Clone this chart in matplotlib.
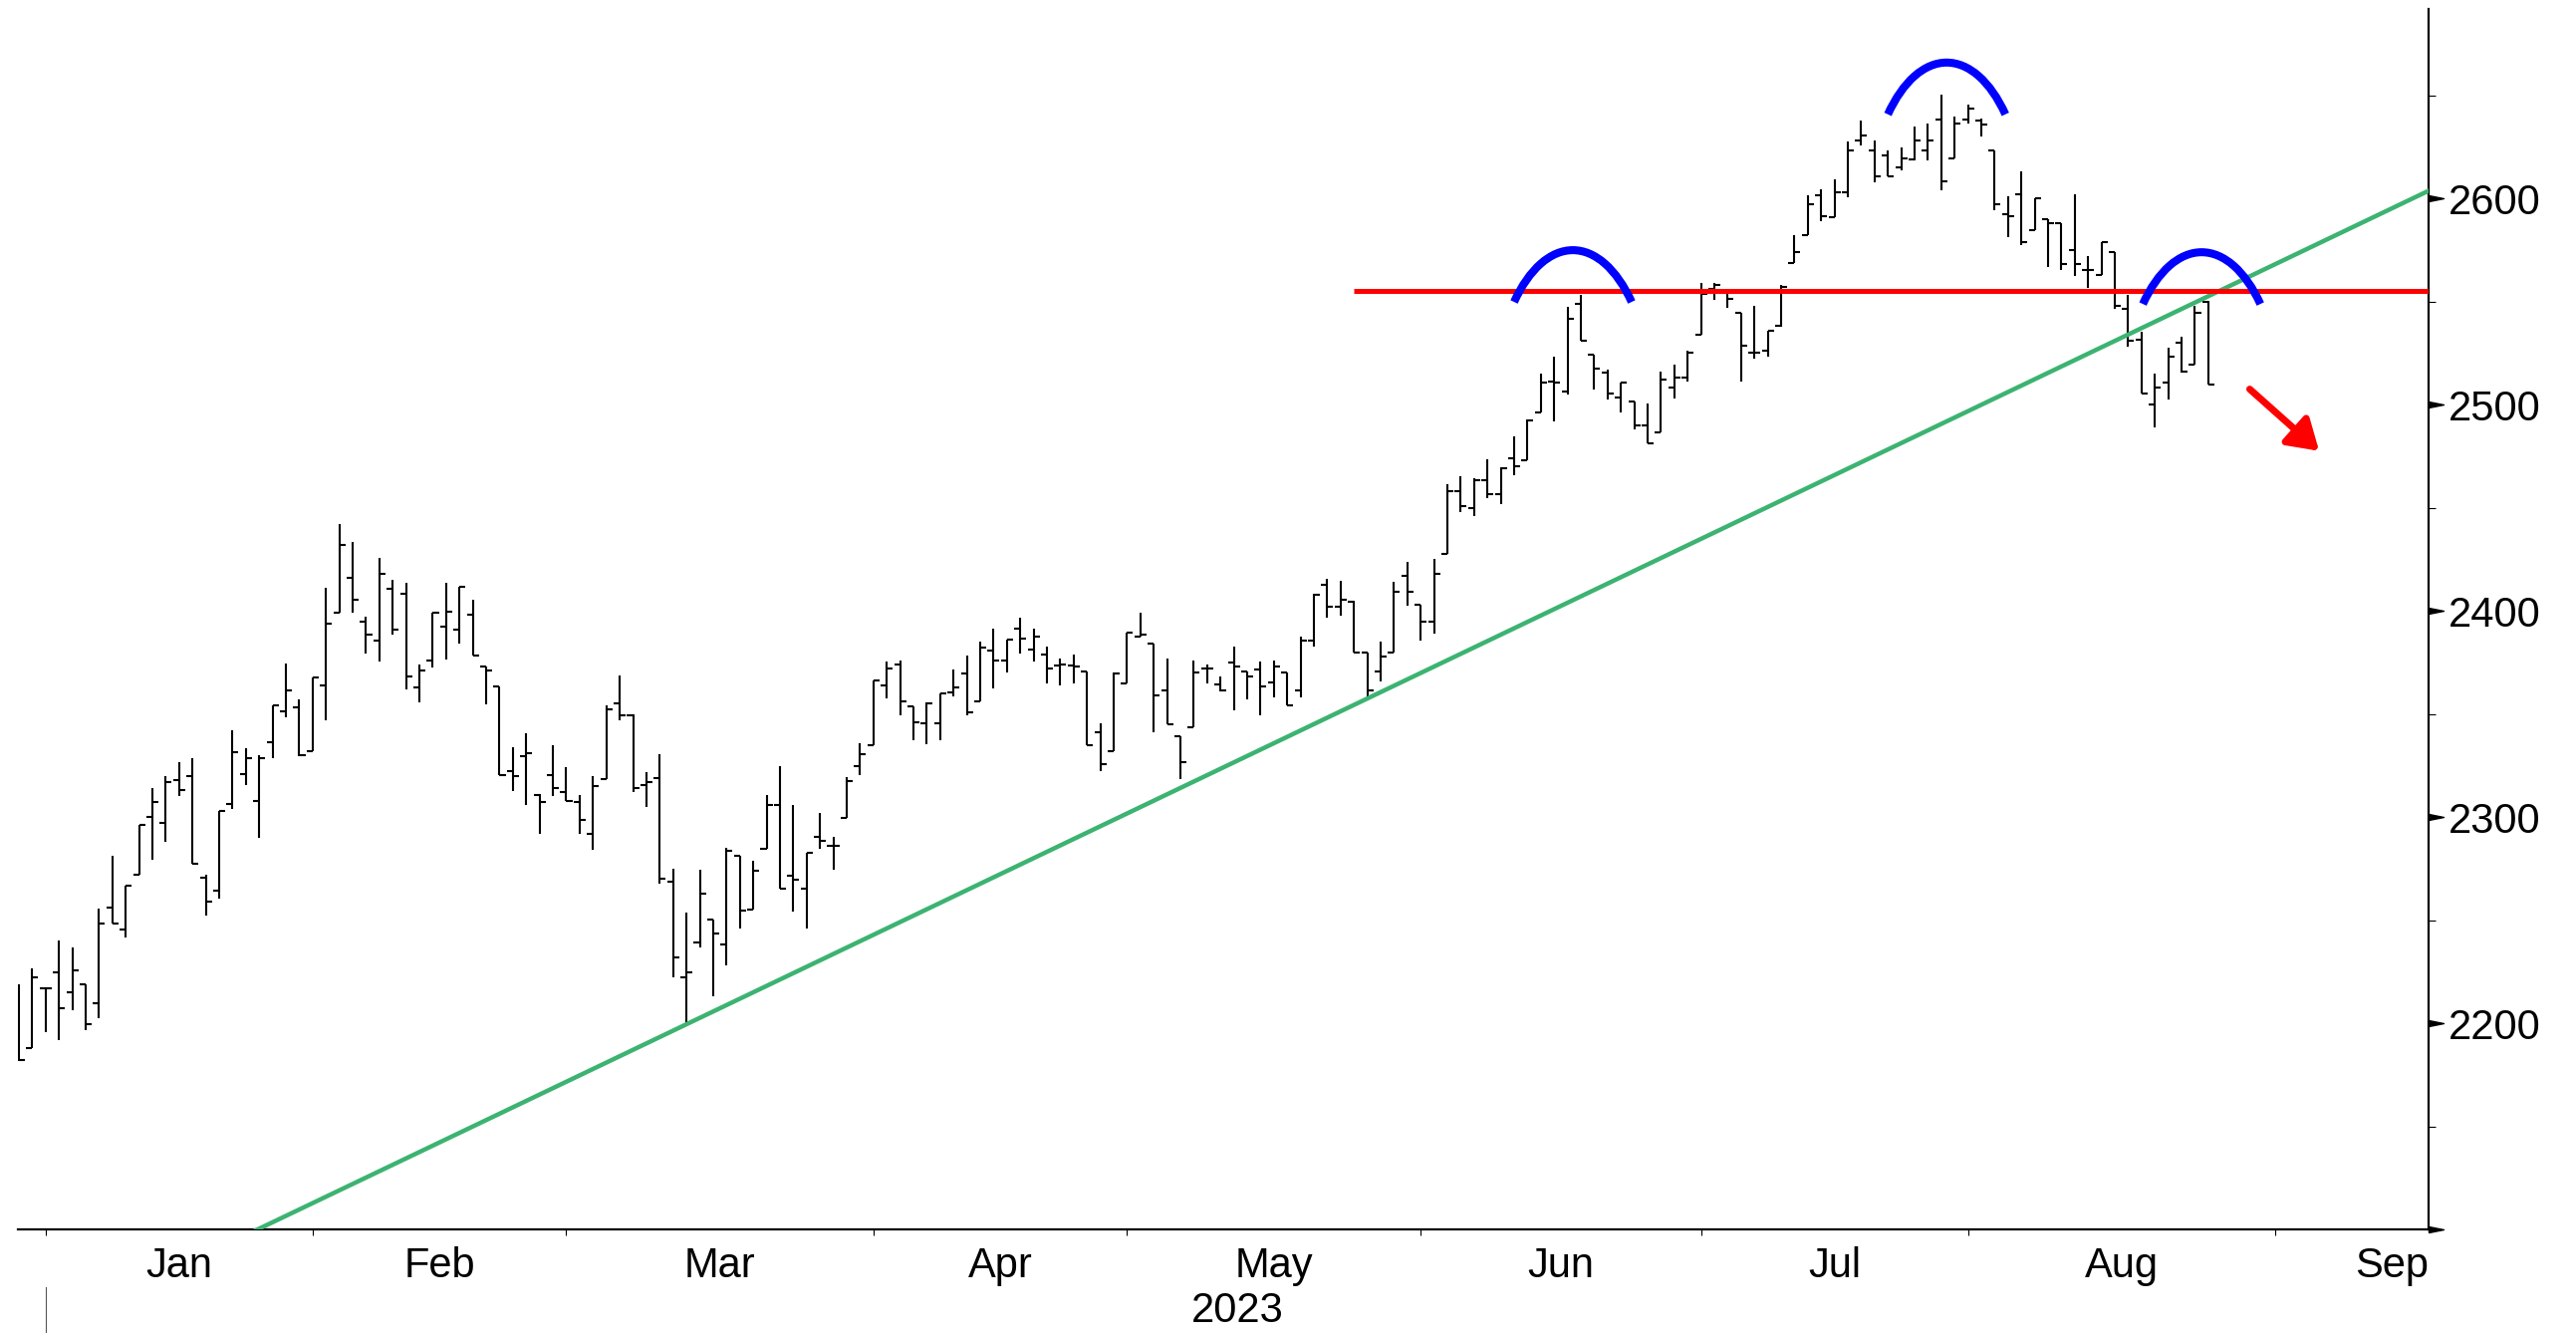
import matplotlib
matplotlib.use("Agg")
import matplotlib.pyplot as plt
import numpy as np
from matplotlib.patches import Arc, FancyArrowPatch
from matplotlib.transforms import blended_transform_factory

# daily OHLC, 29 Dec 2022 .. 25 Aug 2023 (one entry per trading day)
opens = [2200, 2188, 2217, 2224.5, 2215, 2219, 2209.5, 2256, 2245.5, 2272,
         2300, 2297, 2318, 2320, 2270.5, 2264.5, 2306.5, 2321, 2308, 2336.5,
         2351.5, 2353, 2332, 2364, 2399, 2416, 2395, 2385.5, 2410.5, 2408.5,
         2363, 2376, 2392.5, 2391, 2398, 2373, 2363.5, 2322.5, 2329.5, 2310.5,
         2320.5, 2312, 2307.5, 2292, 2318.5, 2355, 2349.5, 2315.5, 2319, 2268.5,
         2222.5, 2239, 2250.5, 2238, 2281, 2255, 2284.5, 2306, 2271.5, 2265.5,
         2290.5, 2286, 2299.5, 2324.5, 2335, 2364, 2374, 2353.5, 2345.5, 2345.5,
         2360.5, 2369.5, 2356, 2381, 2376, 2391.5, 2381.5, 2379, 2373.5, 2373.5,
         2370.5, 2341, 2332, 2365, 2387.5, 2384, 2361.5, 2339, 2343.5, 2372,
         2364.5, 2375, 2370.5, 2371.5, 2365.5, 2370, 2361.5, 2385.5, 2412.5, 2402,
         2404.5, 2380, 2370.5, 2380, 2417, 2403, 2395, 2427.5, 2458, 2450,
         2463.5, 2456.5, 2474, 2473, 2496.5, 2511.5, 2506.5, 2549, 2524.5, 2515.5,
         2503.5, 2501.5, 2490, 2486.5, 2508.5, 2513, 2534, 2556, 2554.5, 2544.5,
         2525.5, 2526, 2538.5, 2569, 2582.5, 2601.5, 2591, 2603, 2628, 2623.5,
         2621, 2615, 2619, 2623.5, 2638.5, 2619.5, 2638.5, 2638, 2623.5, 2592.5,
         2602, 2584.5, 2590, 2588, 2575, 2565.5, 2563, 2574, 2546.5, 2531.5,
         2500, 2511, 2530, 2519.5, 2550]
highs = [2219, 2226.5, 2217, 2240, 2237, 2219, 2255.5, 2281, 2266.5, 2296,
         2314, 2320, 2326.5, 2328.5, 2272, 2303, 2342, 2333.5, 2330, 2354,
         2374.5, 2357, 2367.5, 2411, 2442, 2433.5, 2397, 2425.5, 2415, 2413.5,
         2374, 2399, 2413.5, 2411.5, 2405.5, 2373, 2363.5, 2334, 2340.5, 2311,
         2335, 2324, 2310.5, 2320, 2354, 2368.5, 2350, 2322, 2330.5, 2275,
         2253.5, 2274.5, 2250.5, 2285, 2281, 2279, 2310.5, 2324.5, 2306, 2282.5,
         2302, 2290.5, 2319.5, 2336, 2366.5, 2375.5, 2376, 2353.5, 2355.5, 2360,
         2371.5, 2378.5, 2385, 2391.5, 2386, 2396.5, 2391.5, 2382.5, 2377, 2379,
         2370.5, 2345.5, 2370, 2389.5, 2399, 2384, 2377, 2339, 2376, 2374,
         2368, 2382.5, 2370.5, 2375.5, 2376, 2370, 2387.5, 2408.5, 2415.5, 2414.5,
         2405, 2380, 2385, 2414, 2424, 2403, 2425, 2461.5, 2465.5, 2464.5,
         2473.5, 2469.5, 2484.5, 2493, 2515, 2523.5, 2547.5, 2553.5, 2524.5, 2517,
         2511, 2501.5, 2500.5, 2516, 2519.5, 2526, 2559, 2559, 2555, 2544.5,
         2548, 2536, 2558, 2582.5, 2601.5, 2604.5, 2609.5, 2627.5, 2638, 2628,
         2623.5, 2625, 2635, 2636.5, 2650.5, 2640, 2645.5, 2639, 2623.5, 2601,
         2613, 2600, 2590, 2588, 2602, 2572, 2579, 2574, 2553.5, 2535.5,
         2515, 2527.5, 2533, 2548, 2550.5]
lows = [2181.5, 2188, 2195.5, 2192, 2206.5, 2196.5, 2202.5, 2248.5, 2241.5, 2272,
        2279.5, 2288, 2310, 2277.5, 2252, 2260.5, 2304, 2315.5, 2290, 2328.5,
        2348.5, 2329.5, 2332, 2347, 2399, 2399, 2379.5, 2375.5, 2388.5, 2362,
        2355.5, 2372.5, 2376.5, 2384, 2378.5, 2354.5, 2320.5, 2312.5, 2306, 2292,
        2310, 2308, 2292, 2284, 2318.5, 2347, 2312, 2305, 2267.5, 2222.5,
        2199.5, 2237, 2213, 2228, 2246, 2255, 2284.5, 2265.5, 2254, 2246,
        2284.5, 2274.5, 2299.5, 2320.5, 2335, 2357.5, 2349.5, 2337.5, 2335.5, 2337.5,
        2358.5, 2349.5, 2356, 2362.5, 2370, 2379.5, 2375.5, 2365, 2364, 2365,
        2335, 2322.5, 2332, 2365, 2387.5, 2341, 2345, 2318.5, 2343.5, 2365,
        2361, 2352, 2357, 2349.5, 2358, 2354, 2358, 2382.5, 2396.5, 2397.5,
        2380, 2357.5, 2366, 2380, 2402.5, 2385.5, 2389, 2427.5, 2448, 2446,
        2454.5, 2452, 2466, 2473, 2496.5, 2492, 2505, 2531, 2507.5, 2502.5,
        2496.5, 2488, 2481.5, 2486.5, 2503, 2511.5, 2534, 2551, 2547, 2511.5,
        2522.5, 2523.5, 2538, 2569, 2582.5, 2589, 2591, 2600.5, 2626, 2608,
        2611, 2613.5, 2618.5, 2618.5, 2604, 2619.5, 2636.5, 2630, 2594.5, 2581.5,
        2577.5, 2584.5, 2567, 2565.5, 2562.5, 2556.5, 2563, 2546.5, 2528, 2505.5,
        2489, 2502.5, 2515.5, 2519.5, 2510]
closes = [2182, 2222.5, 2217, 2207.5, 2225.5, 2199.5, 2248.5, 2248.5, 2266.5, 2296,
          2307.5, 2317, 2313, 2277.5, 2259, 2303, 2331.5, 2328.5, 2328.5, 2354,
          2361.5, 2330, 2367.5, 2394, 2432, 2405.5, 2388.5, 2418, 2391, 2368,
          2371, 2399, 2399.5, 2411.5, 2378.5, 2371, 2320.5, 2320, 2331, 2307.5,
          2314, 2308, 2298.5, 2315, 2352.5, 2349.5, 2314, 2317, 2270, 2232,
          2224.5, 2263, 2243.5, 2283.5, 2254.5, 2274, 2306, 2265.5, 2269.5, 2282.5,
          2288.5, 2286, 2317.5, 2330.5, 2366.5, 2372, 2356, 2346, 2355, 2360,
          2363, 2351, 2382, 2376, 2386, 2386.5, 2387.5, 2372, 2374, 2373,
          2335, 2325.5, 2369.5, 2389.5, 2388.5, 2359, 2345, 2326.5, 2370, 2372,
          2361.5, 2373, 2368, 2363.5, 2373, 2354, 2385.5, 2408, 2402, 2405.5,
          2380, 2361.5, 2378, 2409.5, 2409.5, 2395, 2418, 2458, 2451, 2463.5,
          2456.5, 2469, 2470, 2492.5, 2511, 2511, 2541.5, 2531, 2517.5, 2505.5,
          2511, 2490, 2481.5, 2512, 2513, 2525.5, 2554, 2558, 2551.5, 2528.5,
          2525.5, 2536, 2557, 2574, 2597.5, 2591.5, 2603, 2623.5, 2630.5, 2611,
          2611, 2619.5, 2628, 2628, 2608.5, 2636.5, 2643.5, 2636, 2597.5, 2591.5,
          2579, 2600, 2588, 2568.5, 2568.5, 2565.5, 2579, 2548, 2531, 2505.5,
          2508.5, 2523.5, 2516, 2544.5, 2510]

# trading days per month, the first two bars belong to Dec 2022
month_names = ["Jan", "Feb", "Mar", "Apr", "May", "Jun", "Jul", "Aug", "Sep"]
bars_before_jan = 2
month_days = [20, 19, 23, 19, 22, 21, 20, 23]
year_label = "2023"

ytick_values = [2200, 2300, 2400, 2500, 2600]

# annotations
resistance_level = 2555
resistance_from = 100                 # bar where the red line starts
trend_bars = [50, 101]                # lows that define the green support line
arc_tops = [(116.4, 2575), (144.4, 2666), (163.5, 2574)]
arrow_from = (167.1, 2507.6)
arrow_to = (172.3, 2477.6)

FONT = "Liberation Sans"
plt.rcParams["font.family"] = [FONT, "DejaVu Sans"]

W, H = 2586, 1338
fig = plt.figure(figsize=(W / 100, H / 100), dpi=100)
ax = fig.add_axes([17.7 / W, 104 / H, (2438 - 17.7) / W, 1225 / H])

n = len(closes)
x = np.arange(n)
xmin, xmax = -0.1, 180.5
ymin, ymax = 2100, 2692

# OHLC bars
ax.vlines(x, lows, highs, color="black", lw=1.5)
ax.hlines(opens, x - 0.45, x, color="black", lw=1.5)
ax.hlines(closes, x, x + 0.45, color="black", lw=1.5)

# support trend line through two lows
x1, x2 = trend_bars
slope = (lows[x2] - lows[x1]) / (x2 - x1)
tx = np.array([xmin, xmax])
ax.plot(tx, lows[x1] + slope * (tx - x1), color="#3cb371", lw=3.2, zorder=3)

# resistance line
ax.plot([resistance_from, xmax], [resistance_level] * 2, color="#ff0000",
        lw=3.6, zorder=3, solid_capstyle="butt")

# blue caps over the three tops (upper part of a tall ellipse)
ea, eb = 80 / 13.4, 160 / 2.0675
t_end = np.radians(42.5)
th = np.degrees(np.arctan2(eb * np.sin(t_end), ea * np.cos(t_end)))
for cx, top in arc_tops:
    ax.add_patch(Arc((cx, top - eb), 2 * ea, 2 * eb, theta1=th, theta2=180 - th,
                     color="#0000ff", lw=5.8, zorder=4))

ax.add_patch(FancyArrowPatch(arrow_from, arrow_to,
                             arrowstyle="-|>,head_length=0.6,head_width=0.38",
                             mutation_scale=30, lw=5, color="#ff0000",
                             shrinkA=0, shrinkB=0, zorder=4))

ax.set_xlim(xmin, xmax)
ax.set_ylim(ymin, ymax)

for side in ["left", "top"]:
    ax.spines[side].set_visible(False)
ax.spines["right"].set_linewidth(1.6)
ax.spines["bottom"].set_linewidth(1.6)

# y axis on the right, triangular major ticks
ax.yaxis.tick_right()
ax.set_yticks(ytick_values)
ax.set_yticklabels([str(v) for v in ytick_values], fontsize=30, family=FONT)
ax.set_yticks(np.arange(2150, 2700, 100), minor=True)
ax.tick_params(axis="y", which="major", length=0, pad=14)
ax.tick_params(axis="y", which="minor", length=5, width=0.8, direction="out")
tri = [(0, -0.2), (1, 0), (0, 0.2), (0, -0.2)]
ytr = blended_transform_factory(ax.transAxes, ax.transData)
ax.plot(np.ones(6), np.arange(2100, 2700, 100), transform=ytr, ls="none",
        marker=tri, ms=21.6, color="black", clip_on=False, zorder=5)

# x axis: month boundaries as ticks, names in between
starts = bars_before_jan + np.concatenate([[0], np.cumsum(month_days)])
ax.set_xticks(starts)
ax.set_xticklabels([])
ax.tick_params(axis="x", which="major", length=4.3, width=0.8, direction="out")
xtr = blended_transform_factory(ax.transData, ax.transAxes)
for k, name in enumerate(month_names):
    if k + 1 < len(starts):
        ax.text((starts[k] + starts[k + 1]) / 2, -0.0139, name, transform=xtr,
                ha="center", va="top", fontsize=30)
    else:
        ax.text(xmax, -0.0139, name, transform=xtr, ha="right", va="top", fontsize=30)
ax.text((starts[0] + xmax) / 2, -0.0506, year_label, transform=xtr,
        ha="center", va="top", fontsize=30)
ax.plot([starts[0], starts[0]], [-0.047, -0.09], transform=xtr, color="#555555",
        lw=0.8, clip_on=False)

fig.savefig("out.png", dpi=100)
